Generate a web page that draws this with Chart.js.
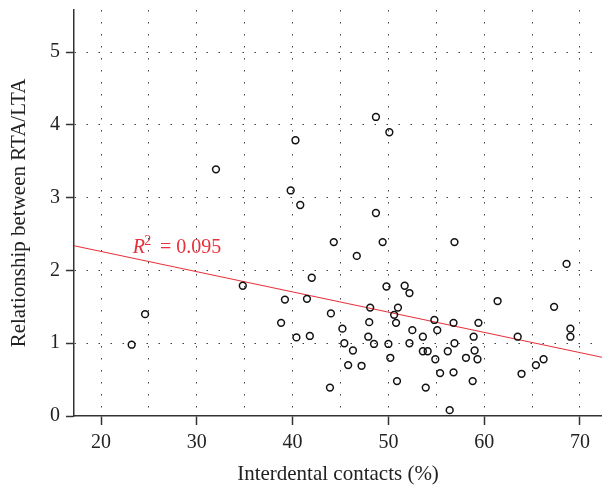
<!DOCTYPE html>
<html>
<head>
<meta charset="utf-8">
<script src="https://cdn.jsdelivr.net/npm/chart.js@4/dist/chart.umd.min.js"></script>
<style>
html, body { margin: 0; padding: 0; background: #fff; overflow: hidden; }
canvas { display: block; }
</style>
</head>
<body>
<canvas id="c" width="602" height="487"></canvas>
<script>
// interdental contacts (%) vs RTA/LTA ratio
var contacts = [32.0, 48.7, 50.1, 40.3, 39.8, 40.8, 48.7, 34.8, 24.6, 23.2,
  44.3, 49.4, 46.7, 42.0, 49.8, 51.7, 52.2, 39.2, 41.5, 48.1,
  51.0, 44.0, 50.6, 38.8, 48.0, 50.8, 45.2, 52.5, 40.4, 41.8,
  47.9, 53.6, 45.4, 48.5, 50.0, 52.2, 46.3, 53.6, 54.1, 50.2,
  45.8, 47.2, 50.9, 43.9, 53.9, 56.9, 68.6, 61.4, 67.3, 54.8,
  56.8, 59.4, 55.1, 69.0, 58.9, 63.5, 69.0, 56.2, 56.9, 59.0,
  54.9, 58.1, 59.3, 66.2, 65.4, 55.4, 56.8, 63.9, 58.8, 56.4];
var ratio = [3.39, 4.11, 3.90, 3.79, 3.10, 2.90, 2.79, 1.79, 1.40, 0.98,
  2.39, 2.39, 2.20, 1.90, 1.78, 1.79, 1.69, 1.60, 1.61, 1.49,
  1.49, 1.41, 1.39, 1.28, 1.29, 1.28, 1.20, 1.18, 1.08, 1.10,
  1.09, 1.09, 1.00, 0.99, 0.99, 1.00, 0.90, 0.89, 0.89, 0.80,
  0.70, 0.69, 0.48, 0.39, 0.39, 2.39, 2.09, 1.58, 1.50, 1.32,
  1.28, 1.28, 1.18, 1.20, 1.09, 1.09, 1.09, 0.89, 1.00, 0.90,
  0.78, 0.80, 0.78, 0.78, 0.70, 0.59, 0.60, 0.58, 0.48, 0.08];

var xTicks = [20, 25, 30, 35, 40, 45, 50, 55, 60, 65, 70]; // grid every 5, labels every 10
var yTicks = [0, 1, 2, 3, 4, 5];
var xMin = 17.18, xMax = 72.3;
var yMin = 0, yMax = 5.58;

// fitted line and its label
var fitIntercept = 2.818;
var fitSlope = -0.0278;
var r2Text = '0.095';
var r2At = [23.31, 2.234];

var red = '#e8303a';
var ink = '#222';
var axisCol = '#333';
var gridCol = 'rgba(0,0,0,0.75)';
var serif = '"Liberation Serif", "Times New Roman", serif';

var fitLine = [xMin, xMax].map(function (x) {
  return { x: x, y: fitIntercept + fitSlope * x };
});
var points = contacts.map(function (x, i) { return { x: x, y: ratio[i] }; });

var r2Label = {
  id: 'r2Label',
  afterDatasetsDraw: function (chart) {
    var ctx = chart.ctx;
    var px = chart.scales.x.getPixelForValue(r2At[0]);
    var py = chart.scales.y.getPixelForValue(r2At[1]);
    ctx.save();
    ctx.fillStyle = red;
    ctx.textBaseline = 'alphabetic';
    ctx.textAlign = 'left';
    ctx.font = 'italic 20px ' + serif;
    ctx.fillText('R', px, py);
    ctx.font = '14px ' + serif;
    ctx.fillText('2', px + 11.5, py - 8.5);
    ctx.font = '20px ' + serif;
    ctx.fillText('= ' + r2Text, px + 27.3, py);
    ctx.restore();
  }
};

new Chart(document.getElementById('c').getContext('2d'), {
  type: 'scatter',
  data: {
    datasets: [
      {
        data: points,
        showLine: false,
        pointStyle: 'circle',
        pointRadius: 3.4,
        pointHoverRadius: 3.4,
        borderWidth: 1.5,
        borderColor: '#111',
        backgroundColor: 'rgba(0,0,0,0)'
      },
      {
        type: 'line',
        data: fitLine,
        borderColor: red,
        borderWidth: 1.1,
        pointRadius: 0,
        fill: false
      }
    ]
  },
  options: {
    responsive: false,
    animation: false,
    devicePixelRatio: 1,
    layout: { autoPadding: false, padding: { top: 10, right: 0, bottom: 0, left: 0 } },
    plugins: { legend: { display: false }, tooltip: { enabled: false } },
    scales: {
      x: {
        type: 'linear',
        min: xMin,
        max: xMax,
        afterBuildTicks: function (s) { s.ticks = xTicks.map(function (v) { return { value: v }; }); },
        afterFit: function (s) {
          s.height = 71;
          s.paddingLeft = 0; s.paddingRight = 0; s.paddingTop = 0; s.paddingBottom = 0;
        },
        ticks: {
          autoSkip: false,
          maxRotation: 0,
          padding: 6,
          color: ink,
          font: { family: serif, size: 20 },
          callback: function (v) { return v % 10 === 0 ? String(v) : ''; }
        },
        grid: {
          color: gridCol,
          lineWidth: 1,
          tickLength: 9,
          tickWidth: 1.5,
          tickColor: function (c) { return c.tick && c.tick.value % 10 === 0 ? axisCol : 'rgba(0,0,0,0)'; }
        },
        border: { color: axisCol, width: 1.5, dash: [1.5, 10.5] },
        title: {
          display: true,
          text: 'Interdental contacts (%)',
          color: ink,
          font: { family: serif, size: 21 },
          padding: { top: 0, bottom: 0 }
        }
      },
      y: {
        type: 'linear',
        min: yMin,
        max: yMax,
        afterBuildTicks: function (s) { s.ticks = yTicks.map(function (v) { return { value: v }; }); },
        afterFit: function (s) {
          s.width = 74;
          s.paddingLeft = 0; s.paddingRight = 0; s.paddingTop = 0; s.paddingBottom = 0;
        },
        ticks: {
          padding: 6,
          color: ink,
          font: { family: serif, size: 20 }
        },
        grid: {
          color: function (c) { return c.tick && c.tick.value === 0 ? 'rgba(0,0,0,0)' : gridCol; },
          lineWidth: 1,
          tickLength: 8,
          tickWidth: 1.5,
          tickColor: axisCol
        },
        border: { color: axisCol, width: 1.5, dash: [1.5, 10.5] },
        title: {
          display: true,
          text: 'Relationship between RTA/LTA',
          color: ink,
          font: { family: serif, size: 21 },
          padding: { top: 6.4, bottom: 0 }
        }
      }
    }
  },
  plugins: [r2Label]
});
</script>
</body>
</html>
